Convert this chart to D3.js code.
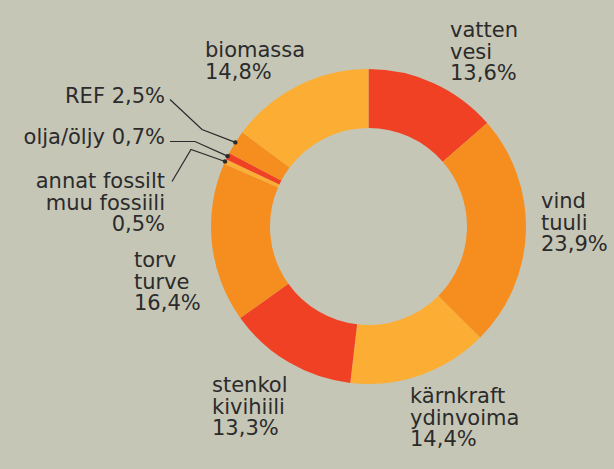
<!DOCTYPE html>
<html>
<head>
<meta charset="utf-8">
<script src="https://cdn.jsdelivr.net/npm/d3@7"></script>
<style>
  html, body { margin: 0; padding: 0; background: #c6c6b7; }
  svg { display: block; }
  .lbl { font-family: "DejaVu Sans", sans-serif; font-size: 21px; fill: #2b2b2b; }
</style>
</head>
<body>
<div id="chart"></div>
<script>
// source names (swedish / finnish) and shares in percent, clockwise from 12 o'clock
var names = ["vatten", "vind", "kärnkraft", "stenkol", "torv", "annat fossilt", "olja/öljy", "REF", "biomassa"];
var namesFi = ["vesi", "tuuli", "ydinvoima", "kivihiili", "turve", "muu fossiili", "", "", ""];
var shares = [13.6, 23.9, 14.4, 13.3, 16.4, 0.5, 0.7, 2.5, 14.8];
var shareLabels = ["13,6%", "23,9%", "14,4%", "13,3%", "16,4%", "0,5%", "0,7%", "2,5%", "14,8%"];

var colors = ["#f04124", "#f68d1f", "#fbae33"];  // red, orange, yellow repeated round the ring

var width = 614, height = 469;
var cx = 368.5, cy = 226.5;
var outerR = 157.5, innerR = 98.5;

var svg = d3.select("#chart").append("svg")
    .attr("width", width)
    .attr("height", height);

svg.append("rect").attr("width", width).attr("height", height).attr("fill", "#c6c6b7");

var data = names.map(function(n, i) {
  return { name: n, fi: namesFi[i], value: shares[i], label: shareLabels[i] };
});

var pie = d3.pie().sort(null).value(function(d) { return d.value; });
var arc = d3.arc().innerRadius(innerR).outerRadius(outerR);
var arcs = pie(data);

var g = svg.append("g").attr("transform", "translate(" + cx + "," + cy + ")");

g.selectAll("path.slice")
  .data(arcs)
  .enter().append("path")
    .attr("class", "slice")
    .attr("d", arc)
    .attr("fill", function(d, i) { return colors[i % colors.length]; });

// point on the outer rim at the middle of a slice
function rimPoint(a) {
  var m = (a.startAngle + a.endAngle) / 2;
  return [cx + outerR * Math.sin(m), cy - outerR * Math.cos(m)];
}

var lineH = 21.5;

// one text element per line so the lines stay separate
function multiline(lines, x, y, anchor) {
  lines.forEach(function(s, k) {
    svg.append("text")
      .attr("class", "lbl")
      .attr("text-anchor", anchor)
      .attr("x", x)
      .attr("y", y + k * lineH)
      .text(s);
  });
}

// labels placed beside the ring: [index, x, first baseline]
var placements = [
  [0, 450, 37],
  [1, 541, 208],
  [2, 410, 403],
  [3, 212, 392],
  [4, 134, 267],
  [8, 205, 57]
];

placements.forEach(function(p) {
  var d = data[p[0]];
  var lines = [d.name];
  if (d.fi) lines.push(d.fi);
  lines.push(d.label);
  multiline(lines, p[1], p[2], "start");
});

// small slices with leader lines (text right edge, first baseline, bend points)
var callouts = [
  { i: 7, lines: ["REF 2,5%"], x: 165, y: 103, pts: [[170, 99.5], [202, 129.5]] },
  { i: 6, lines: ["olja/öljy 0,7%"], x: 165, y: 144, pts: [[170, 141.5], [195, 141.5]] },
  { i: 5, lines: ["annat fossilt", "muu fossiili", "0,5%"], x: 165, y: 188, pts: [[172, 181.5], [191, 149.5]] }
];

callouts.forEach(function(c) {
  multiline(c.lines, c.x, c.y, "end");
  var end = rimPoint(arcs[c.i]);
  var pts = c.pts.concat([end]);
  svg.append("path")
    .attr("d", d3.line()(pts))
    .attr("fill", "none")
    .attr("stroke", "#2b2b2b")
    .attr("stroke-width", 1.2);
  svg.append("circle")
    .attr("cx", end[0]).attr("cy", end[1]).attr("r", 2.2)
    .attr("fill", "#2b2b2b");
});
</script>
</body>
</html>
